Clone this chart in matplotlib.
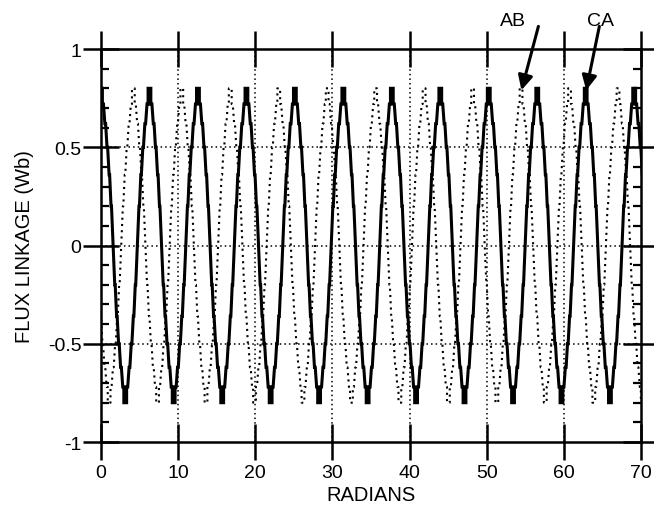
import matplotlib
matplotlib.use("Agg")
import matplotlib.pyplot as plt
from matplotlib.ticker import MultipleLocator

plt.rcParams["font.family"] = ["Liberation Sans", "DejaVu Sans"]
plt.rcParams["axes.unicode_minus"] = False

# quarter period of the stepped flux waveform:
# angle after the peak (rad) and flux linkage (Wb); the rest of the
# period is the mirror image of it
quarter_theta = [0.00, 0.18, 0.18, 0.32, 0.50, 0.60, 0.78, 0.86, 1.05, 1.12, 1.30, 1.36, 1.571]
quarter_flux = [0.80, 0.80, 0.72, 0.72, 0.62, 0.62, 0.50, 0.50, 0.36, 0.36, 0.20, 0.20, 0.00]
half_period = 3.1416

# peak positions of the two curves (rad)
ca_peaks = [0.0, 6.28, 12.57, 18.85, 25.13, 31.42, 37.70, 43.98, 50.27, 56.55, 62.83, 69.12]
ab_peaks = [-2.09, 4.19, 10.47, 16.76, 23.04, 29.32, 35.60, 41.89, 48.17, 54.45, 60.74, 67.02]

x_ticks = [0, 10, 20, 30, 40, 50, 60, 70]
y_ticks = [-1, -0.5, 0, 0.5, 1]
y_labels = ["-1", "-0.5", "0", "0.5", "1"]


def build_curve(peaks):
    # half period from peak to trough: quarter, then its mirror (negated)
    half_t = list(quarter_theta)
    half_v = list(quarter_flux)
    for t, v in zip(reversed(quarter_theta[:-1]), reversed(quarter_flux[:-1])):
        half_t.append(half_period - t)
        half_v.append(-v)
    xs = []
    ys = []
    for p in peaks:
        for t, v in zip(half_t, half_v):
            xs.append(p + t)
            ys.append(v)
        for t, v in zip(reversed(half_t[:-1]), reversed(half_v[:-1])):
            xs.append(p + 2 * half_period - t)
            ys.append(v)
    return xs, ys


fig = plt.figure(figsize=(6.54, 5.06), dpi=100)
ax = fig.add_axes([101 / 654, 1 - 443 / 506, 540 / 654, 393 / 506])

ab_x, ab_y = build_curve(ab_peaks)
ca_x, ca_y = build_curve(ca_peaks)
ax.plot(ab_x, ab_y, color="black", lw=1.5, linestyle=(0, (1, 2.0)))
ax.plot(ca_x, ca_y, color="black", lw=2.2, solid_joinstyle="miter")

ax.set_xlim(0, 70)
ax.set_ylim(-1, 1)

# dotted grid at the inner major ticks
for gx in x_ticks[1:-1]:
    ax.axvline(gx, color="black", lw=1.1, linestyle=(0, (1, 2.0)), zorder=0)
for gy in y_ticks[1:-1]:
    ax.axhline(gy, color="black", lw=1.1, linestyle=(0, (1, 2.0)), zorder=0)

for s in ax.spines.values():
    s.set_linewidth(1.8)

ax.set_xticks(x_ticks)
ax.set_yticks(y_ticks)
ax.set_yticklabels(y_labels)
ax.yaxis.set_minor_locator(MultipleLocator(0.1))
ax.tick_params(axis="both", which="major", direction="inout", length=26, width=1.8,
               labelsize=14, top=True, right=True, pad=1)
ax.tick_params(axis="y", which="minor", direction="in", length=6, width=1.6, right=True)
ax.tick_params(axis="x", which="major", pad=3)

ax.set_xlabel("RADIANS", fontsize=14.5, labelpad=3)
ax.set_ylabel("FLUX LINKAGE (Wb)", fontsize=14.5, labelpad=10)

arrow = dict(arrowstyle="-|>", mutation_scale=22, lw=2.2, color="black", shrinkA=0, shrinkB=0)
ax.annotate("", xy=(54.5, 0.79), xytext=(56.7, 1.115), arrowprops=arrow, annotation_clip=False)
ax.annotate("", xy=(62.9, 0.79), xytext=(64.6, 1.115), arrowprops=arrow, annotation_clip=False)
ax.text(53.4, 1.145, "AB", fontsize=14, ha="center", va="center", clip_on=False)
ax.text(64.7, 1.145, "CA", fontsize=14, ha="center", va="center", clip_on=False)

fig.savefig("out.png", dpi=100)
